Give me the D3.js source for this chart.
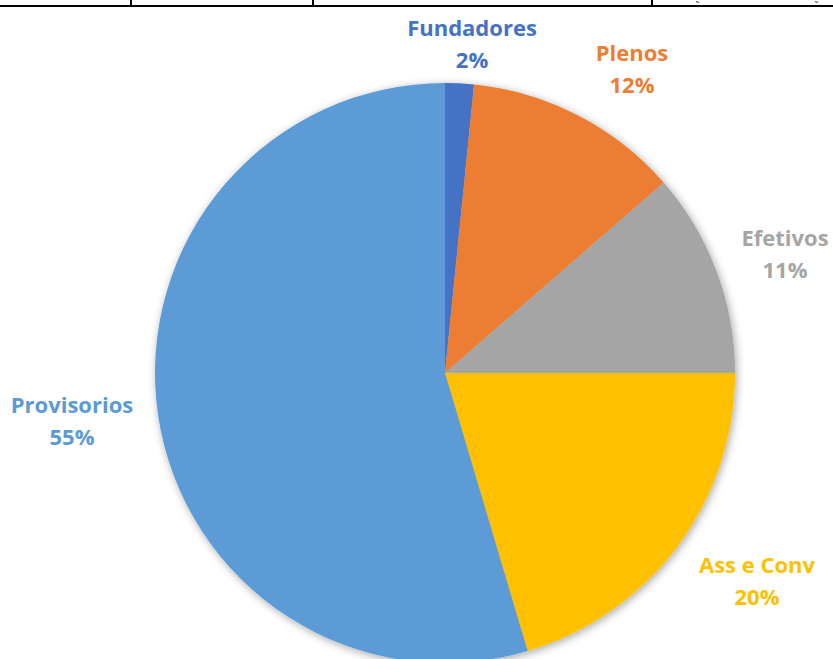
<!DOCTYPE html>
<html>
<head>
<meta charset="utf-8">
<script src="https://cdn.jsdelivr.net/npm/d3@7"></script>
<style>
html,body{margin:0;padding:0;background:#fff;}
svg{display:block;}
</style>
</head>
<body>
<svg id="chart" width="833" height="659"></svg>
<script>
const categories = ["Fundadores", "Plenos", "Efetivos", "Ass e Conv", "Provisorios"];
const values = [1.6, 12.0, 11.4, 20.4, 54.6];
const percentLabels = ["2%", "12%", "11%", "20%", "55%"];
const colors = ["#4472C4", "#ED7D31", "#A5A5A5", "#FFC000", "#5B9BD5"];
const tableColumnX = [131, 313, 652];

const W = 833, H = 659;
const cx = 445, cy = 373, R = 290;
const svg = d3.select("#chart");

// table border remnant at the top
svg.append("line").attr("x1", 0).attr("x2", W).attr("y1", 6).attr("y2", 6)
  .attr("stroke", "#000").attr("stroke-width", 2);
svg.selectAll("line.col").data(tableColumnX).join("line").attr("class", "col")
  .attr("x1", d => d).attr("x2", d => d).attr("y1", 0).attr("y2", 6)
  .attr("stroke", "#000").attr("stroke-width", 2);
// tiny descender fragments of cut-off text
[[698, 1.5], [817, 1.5]].forEach(([x, y]) => {
  svg.append("line").attr("x1", x - 2).attr("x2", x + 1).attr("y1", y).attr("y2", y + 1)
    .attr("stroke", "#444").attr("stroke-width", 1.2);
});

const defs = svg.append("defs");
const f = defs.append("filter").attr("id", "shadow")
  .attr("x", "-10%").attr("y", "-10%").attr("width", "120%").attr("height", "120%");
f.append("feDropShadow").attr("dx", 1.5).attr("dy", 2).attr("stdDeviation", 4)
  .attr("flood-color", "#000").attr("flood-opacity", 0.35);

const pie = d3.pie().sort(null).value(d => d)(values);
const arc = d3.arc().innerRadius(0).outerRadius(R);

const g = svg.append("g").attr("transform", `translate(${cx},${cy})`);
g.append("g").attr("filter", "url(#shadow)")
  .selectAll("path").data(pie).join("path")
  .attr("d", arc)
  .attr("fill", (d, i) => colors[i]);

// label positions (centers, baseline of first line)
const labelPos = [[472, 36], [632, 61], [785, 246], [757, 573], [72, 413]];
const font = "'Open Sans', 'Liberation Sans', sans-serif";
const lg = svg.append("g");
categories.forEach((c, i) => {
  const [x, y] = labelPos[i];
  const t = lg.append("text")
    .attr("text-anchor", "middle")
    .attr("font-family", font)
    .attr("font-weight", "bold")
    .attr("font-size", 22)
    .attr("fill", colors[i]);
  t.append("tspan").attr("x", x).attr("y", y).text(c);
  t.append("tspan").attr("x", x).attr("y", y + 32).text(percentLabels[i]);
});
</script>
</body>
</html>
